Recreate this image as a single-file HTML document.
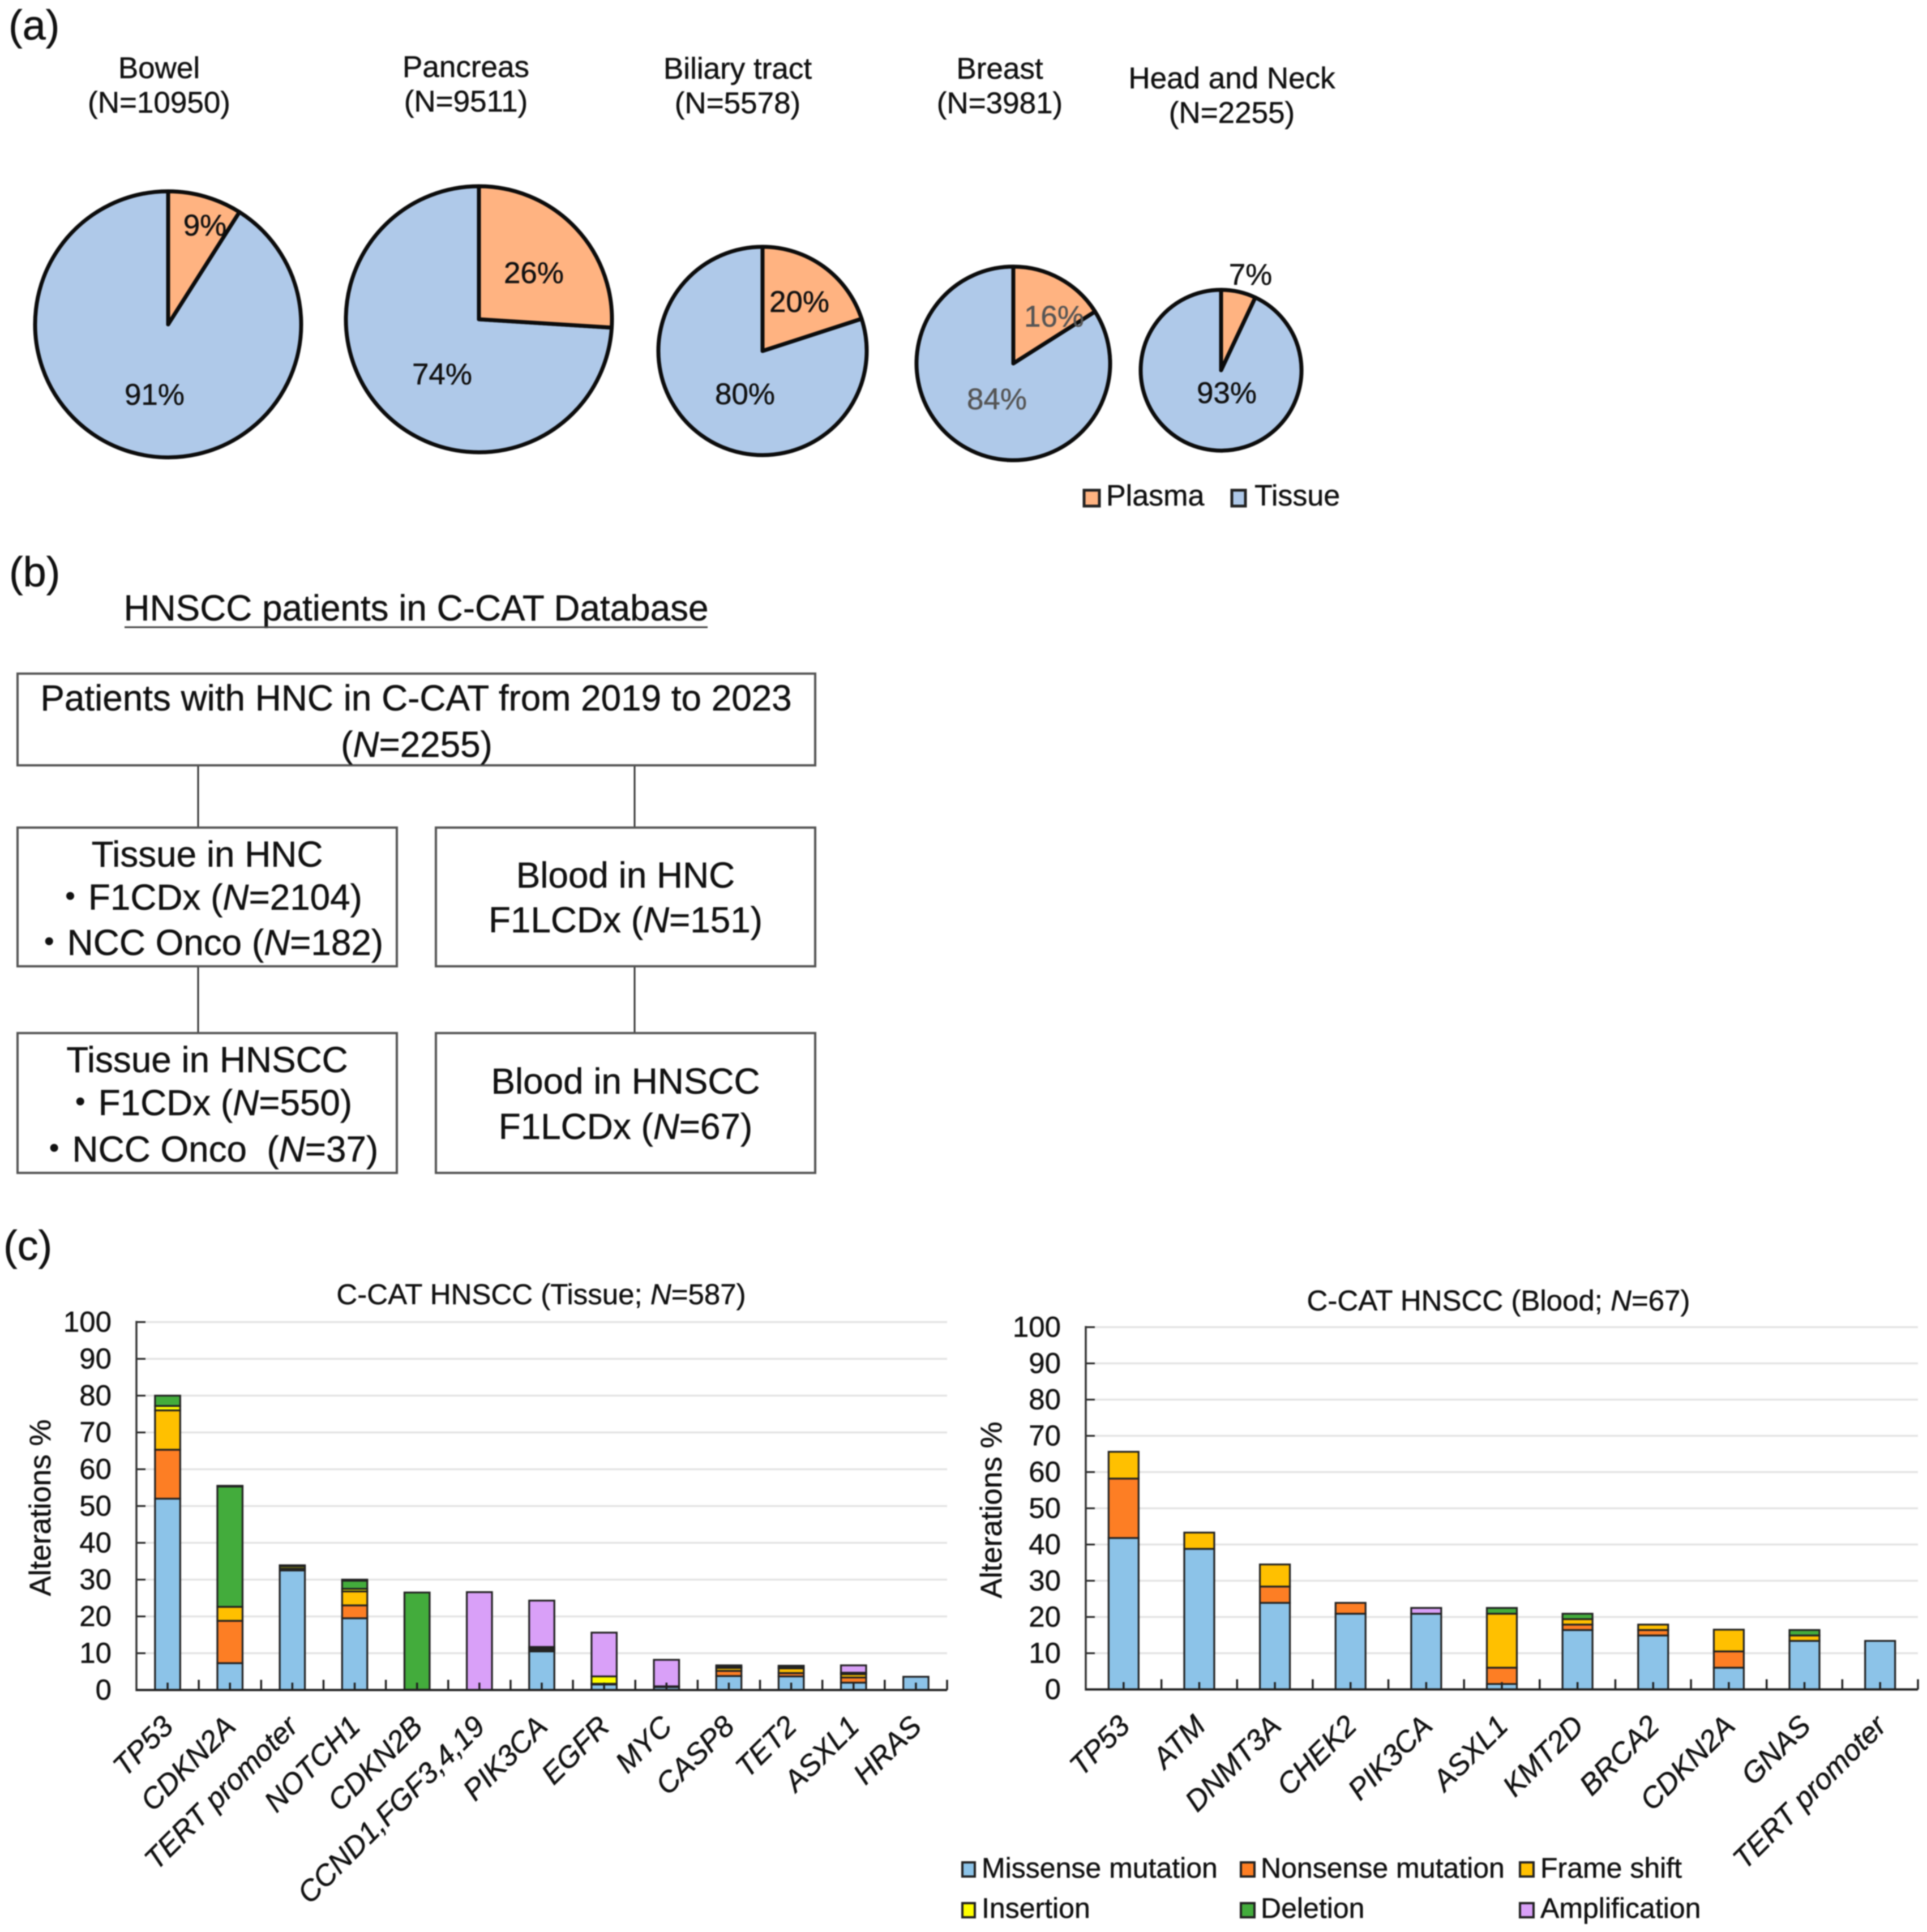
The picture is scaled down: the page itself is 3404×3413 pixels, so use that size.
<!DOCTYPE html>
<html lang="en">
<head>
<meta charset="utf-8">
<title>HNSCC C-CAT figure</title>
<style>
html,body{margin:0;padding:0;background:#fff;width:3404px;height:3413px;overflow:hidden}
svg{display:block;filter:blur(1.1px)}
text{font-family:"Liberation Sans","Noto Sans CJK JP",sans-serif;fill:#111;stroke:#111;stroke-width:.5}
.flow{font-size:63.8px;text-anchor:middle}
.head{font-size:53px;text-anchor:middle}
.panel{font-size:74px}
.box{fill:#fff;stroke:#555;stroke-width:4}
.link{stroke:#333;stroke-width:3}
.sw{stroke:#222;stroke-width:5}
.sw2{stroke:#222;stroke-width:4}
</style>
</head>
<body>
<svg id="fig" xmlns="http://www.w3.org/2000/svg" width="3404" height="3413" viewBox="0 0 3404 3413">
  <rect width="3404" height="3413" fill="#fff"/>

  <text class="panel" x="15" y="70">(a)</text>
  <g id="pies"></g>
  <g>
    <rect class="sw" x="1915" y="866" width="27" height="28" fill="#FFB381" stroke-width="6"/>
    <text x="1954" y="893" font-size="52">Plasma</text>
    <rect class="sw" x="2176" y="866" width="24" height="28" fill="#AFC9E9" stroke-width="6"/>
    <text x="2216" y="893" font-size="52">Tissue</text>
  </g>

  <text class="panel" x="16" y="1036">(b)</text>
  <g>
    <text class="flow" x="735" y="1096">HNSCC patients in C-CAT Database</text>
    <line x1="220" y1="1108" x2="1250" y2="1108" stroke="#444" stroke-width="3"/>

    <line class="link" x1="350" y1="1352" x2="350" y2="1462"/>
    <line class="link" x1="1121" y1="1352" x2="1121" y2="1462"/>
    <line class="link" x1="350" y1="1707" x2="350" y2="1825"/>
    <line class="link" x1="1121" y1="1707" x2="1121" y2="1825"/>

    <rect class="box" x="31" y="1190" width="1409" height="162"/>
    <text class="flow" x="735" y="1255">Patients with HNC in C-CAT from 2019 to 2023</text>
    <text class="flow" x="736" y="1337">(<tspan font-style="italic">N</tspan>=2255)</text>

    <rect class="box" x="31" y="1462" width="670" height="245"/>
    <text class="flow" x="366" y="1531">Tissue in HNC</text>
    <text class="flow" x="366" y="1607">・F1CDx (<tspan font-style="italic">N</tspan>=2104)</text>
    <text class="flow" x="366" y="1687">・NCC Onco (<tspan font-style="italic">N</tspan>=182)</text>

    <rect class="box" x="770" y="1462" width="670" height="245"/>
    <text class="flow" x="1105" y="1568">Blood in HNC</text>
    <text class="flow" x="1105" y="1647">F1LCDx (<tspan font-style="italic">N</tspan>=151)</text>

    <rect class="box" x="31" y="1825" width="670" height="247"/>
    <text class="flow" x="366" y="1894">Tissue in HNSCC</text>
    <text class="flow" x="366" y="1970">・F1CDx (<tspan font-style="italic">N</tspan>=550)</text>
    <text class="flow" x="366" y="2052" xml:space="preserve">・NCC Onco  (<tspan font-style="italic">N</tspan>=37)</text>

    <rect class="box" x="770" y="1825" width="670" height="247"/>
    <text class="flow" x="1105" y="1932">Blood in HNSCC</text>
    <text class="flow" x="1105" y="2012">F1LCDx (<tspan font-style="italic">N</tspan>=67)</text>
  </g>

  <text class="panel" x="6" y="2226">(c)</text>
  <text x="956" y="2304" font-size="51" text-anchor="middle">C-CAT HNSCC (Tissue; <tspan font-style="italic">N</tspan>=587)</text>
  <text x="2647" y="2315" font-size="51" text-anchor="middle">C-CAT HNSCC (Blood; <tspan font-style="italic">N</tspan>=67)</text>
  <g id="tissueChart"></g>
  <g id="bloodChart"></g>

  <g>
    <rect class="sw2" x="1700" y="3290" width="22" height="25" fill="#8CC3E8"/>
    <text x="1734" y="3317" font-size="50">Missense mutation</text>
    <rect class="sw2" x="2192" y="3290" width="24" height="25" fill="#FD7E24"/>
    <text x="2227" y="3317" font-size="50">Nonsense mutation</text>
    <rect class="sw2" x="2685" y="3290" width="24" height="25" fill="#FFC000"/>
    <text x="2721" y="3317" font-size="50">Frame shift</text>
    <rect class="sw2" x="1700" y="3362" width="22" height="25" fill="#FFFF00"/>
    <text x="1734" y="3388" font-size="50">Insertion</text>
    <rect class="sw2" x="2192" y="3362" width="24" height="25" fill="#43AC3C"/>
    <text x="2227" y="3388" font-size="50">Deletion</text>
    <rect class="sw2" x="2685" y="3362" width="24" height="25" fill="#D9A0F8"/>
    <text x="2721" y="3388" font-size="50">Amplification</text>
  </g>
</svg>

<script>
// ---- Pie data ----
var pieCancers = ["Bowel", "Pancreas", "Biliary tract", "Breast", "Head and Neck"];
var pieCounts = [10950, 9511, 5578, 3981, 2255];
var piePlasma = [9, 26, 20, 16, 7];
var pieTissue = [91, 74, 80, 84, 93];

// ---- Bar chart data ----
var yTicks = [0, 10, 20, 30, 40, 50, 60, 70, 80, 90, 100];

var tissueGenes = ["TP53", "CDKN2A", "TERT promoter", "NOTCH1", "CDKN2B", "CCND1,FGF3,4,19", "PIK3CA", "EGFR", "MYC", "CASP8", "TET2", "ASXL1", "HRAS"];
var tissueMissense = [52, 7.3, 32.5, 19.5, 0.1, 0, 10.5, 1.5, 0.8, 3.8, 3.7, 2, 3.6];
var tissueNonsense = [13.3, 11.5, 0, 3.5, 0, 0, 0.5, 0.2, 0, 1.4, 0.9, 1.4, 0];
var tissueFrameshift = [10.7, 3.8, 0.5, 3.8, 0, 0, 0.3, 0, 0, 0.8, 1.3, 0.9, 0];
var tissueInsertion = [1.2, 0, 0.6, 0.7, 0, 0, 0.2, 2, 0, 0.3, 0.2, 0.2, 0];
var tissueDeletion = [2.8, 32.7, 0.3, 2.2, 26.4, 0, 0.2, 0, 0.2, 0.4, 0.5, 0.2, 0];
var tissueAmplification = [0, 0.2, 0, 0.3, 0, 26.6, 12.6, 11.9, 7.2, 0, 0, 2, 0];

var bloodGenes = ["TP53", "ATM", "DNMT3A", "CHEK2", "PIK3CA", "ASXL1", "KMT2D", "BRCA2", "CDKN2A", "GNAS", "TERT promoter"];
var bloodMissense = [41.8, 38.8, 23.9, 20.9, 20.9, 1.5, 16.4, 14.9, 6, 13.4, 13.4];
var bloodNonsense = [16.4, 0, 4.5, 3, 0, 4.5, 1.5, 1.5, 4.5, 0, 0];
var bloodFrameshift = [7.4, 4.5, 6.1, 0, 0, 14.9, 1.5, 1.5, 6, 1.5, 0];
var bloodInsertion = [0, 0, 0, 0, 0, 0, 0, 0, 0, 0, 0];
var bloodDeletion = [0, 0, 0, 0, 0, 1.6, 1.5, 0, 0, 1.5, 0];
var bloodAmplification = [0, 0, 0, 0, 1.6, 0, 0, 0, 0, 0, 0];

var SVGNS = "http://www.w3.org/2000/svg";
function mk(tag, attrs, parent) {
  var el = document.createElementNS(SVGNS, tag);
  for (var k in attrs) el.setAttribute(k, attrs[k]);
  parent.appendChild(el);
  return el;
}

// ---- Pies ----
var pieLayout = [
  {cx: 297, cy: 573, r: 235, titleX: 281, titleY: 138, plasmaAt: [362, 416], tissueAt: [273, 715], color: "#111"},
  {cx: 846, cy: 564, r: 235, titleX: 823, titleY: 136, plasmaAt: [943, 500], tissueAt: [781, 679], color: "#111"},
  {cx: 1347, cy: 620, r: 184, titleX: 1303, titleY: 139, plasmaAt: [1412, 551], tissueAt: [1316, 714], color: "#111"},
  {cx: 1790, cy: 642, r: 171, titleX: 1766, titleY: 139, plasmaAt: [1862, 577], tissueAt: [1761, 723], color: "#555"},
  {cx: 2157, cy: 654, r: 142, titleX: 2176, titleY: 156, plasmaAt: [2209, 503], tissueAt: [2167, 712], color: "#111"}
];
var pieRoot = document.getElementById("pies");
pieCancers.forEach(function (name, i) {
  var L = pieLayout[i];
  var key = name.toLowerCase().replace(/\s+/g, "-");
  var frac = piePlasma[i] / (piePlasma[i] + pieTissue[i]);
  var a = frac * 2 * Math.PI;
  var ex = L.cx + L.r * Math.sin(a), ey = L.cy - L.r * Math.cos(a);

  var g = mk("g", {}, pieRoot);
  
  

  var tissue = mk("path", {
    d: "M" + L.cx + " " + L.cy + "L" + ex + " " + ey + "A" + L.r + " " + L.r + " 0 " + (frac > 0.5 ? 0 : 1) + " 1 " + L.cx + " " + (L.cy - L.r) + "Z",
    fill: "#AFC9E9", stroke: "#0c0c0c", "stroke-width": 7, "stroke-linejoin": "round"
  }, g);
  
  

  var plasma = mk("path", {
    d: "M" + L.cx + " " + L.cy + "L" + L.cx + " " + (L.cy - L.r) + "A" + L.r + " " + L.r + " 0 " + (frac > 0.5 ? 1 : 0) + " 1 " + ex + " " + ey + "Z",
    fill: "#FFB381", stroke: "#0c0c0c", "stroke-width": 7, "stroke-linejoin": "round"
  }, g);
  
  

  var t1 = mk("text", {x: L.titleX, y: L.titleY, "class": "head"}, g);
  t1.textContent = name;
  
  

  var t2 = mk("text", {x: L.titleX, y: L.titleY + 61, "class": "head"}, g);
  t2.textContent = "(N=" + pieCounts[i] + ")";
  
  

  var p1 = mk("text", {x: L.plasmaAt[0], y: L.plasmaAt[1], "class": "head", style: "fill:" + L.color + ";stroke:" + L.color}, g);
  p1.textContent = piePlasma[i] + "%";
  
  

  var p2 = mk("text", {x: L.tissueAt[0], y: L.tissueAt[1], "class": "head", style: "fill:" + L.color + ";stroke:" + L.color}, g);
  p2.textContent = pieTissue[i] + "%";
  
  
});

// ---- Stacked bars ----
var seriesNames = ["missense", "nonsense", "frameshift", "insertion", "deletion", "amplification"];
var seriesColors = ["#8CC3E8", "#FD7E24", "#FFC000", "#FFFF00", "#43AC3C", "#D9A0F8"];

function drawChart(rootId, prefix, cfg, genes, series) {
  var root = document.getElementById(rootId);
  var step = (cfg.right - cfg.left) / genes.length;
  function xBand(i) { return cfg.left + step * i; }
  function xCenter(i) { return cfg.left + step * (i + 0.5); }
  function yScale(v) { return cfg.y0 + (cfg.y100 - cfg.y0) * v / 100; }

  yTicks.forEach(function (t) {
    if (t > 0) {
      var gl = mk("line", {x1: cfg.left, x2: cfg.right, y1: yScale(t), y2: yScale(t), stroke: "#E4E4E4", "stroke-width": 3.5}, root);
      
      
    }
    var tk = mk("line", {x1: cfg.left, x2: cfg.left + 16, y1: yScale(t), y2: yScale(t), stroke: "#222", "stroke-width": 3}, root);
    
    
    var lb = mk("text", {x: cfg.left - 44, y: yScale(t) + 17, "font-size": 51, "text-anchor": "end"}, root);
    lb.textContent = t;
    
    
  });

  genes.forEach(function (gene, i) {
    var base = 0;
    series.forEach(function (vals, s) {
      var v = vals[i];
      if (!v) return;
      var top = base + v;
      var r = mk("rect", {
        x: xCenter(i) - cfg.barW / 2, y: yScale(top), width: cfg.barW, height: yScale(base) - yScale(top),
        fill: seriesColors[s], stroke: "#222", "stroke-width": 3.2
      }, root);
      
      
      base = top;
    });
  });

  var axY = mk("line", {x1: cfg.left, x2: cfg.left, y1: cfg.y100 - 2, y2: cfg.y0 + 2, stroke: "#333", "stroke-width": 3.5}, root);
  
  
  var axX = mk("line", {x1: cfg.left, x2: cfg.right, y1: cfg.y0, y2: cfg.y0, stroke: "#222", "stroke-width": 4}, root);
  
  

  for (var b = 1; b <= genes.length; b++) {
    var bt = mk("line", {x1: xBand(b), x2: xBand(b), y1: cfg.y0, y2: cfg.y0 - 18, stroke: "#222", "stroke-width": 3.5}, root);
    
    
  }
  genes.forEach(function (gene, i) {
    var ct = mk("line", {x1: xCenter(i), x2: xCenter(i), y1: cfg.y0, y2: cfg.y0 - 13, stroke: "#222", "stroke-width": 3.5}, root);
    
    
    var ax = xCenter(i) + cfg.labelDx, ay = cfg.labelY;
    var lb = mk("text", {
      x: ax, y: ay, "font-size": 52, "font-style": "italic", "text-anchor": "end",
      transform: "rotate(-45 " + ax + " " + ay + ")"
    }, root);
    lb.textContent = gene;
    
    
  });

  var tx = cfg.titleX, ty = (cfg.y0 + cfg.y100) / 2 + 3;
  var yt = mk("text", {x: tx, y: ty, "font-size": 53, "text-anchor": "middle", transform: "rotate(-90 " + tx + " " + ty + ")"}, root);
  yt.textContent = "Alterations %";
  
  
}

drawChart("tissueChart", "tissue",
  {left: 241, right: 1673, y0: 2985.5, y100: 2335.5, barW: 44.5, labelDx: 13, labelY: 3053, titleX: 89},
  tissueGenes,
  [tissueMissense, tissueNonsense, tissueFrameshift, tissueInsertion, tissueDeletion, tissueAmplification]);

drawChart("bloodChart", "blood",
  {left: 1918, right: 3388, y0: 2984.5, y100: 2344.5, barW: 53, labelDx: 14, labelY: 3052, titleX: 1769},
  bloodGenes,
  [bloodMissense, bloodNonsense, bloodFrameshift, bloodInsertion, bloodDeletion, bloodAmplification]);
</script>
</body>
</html>
